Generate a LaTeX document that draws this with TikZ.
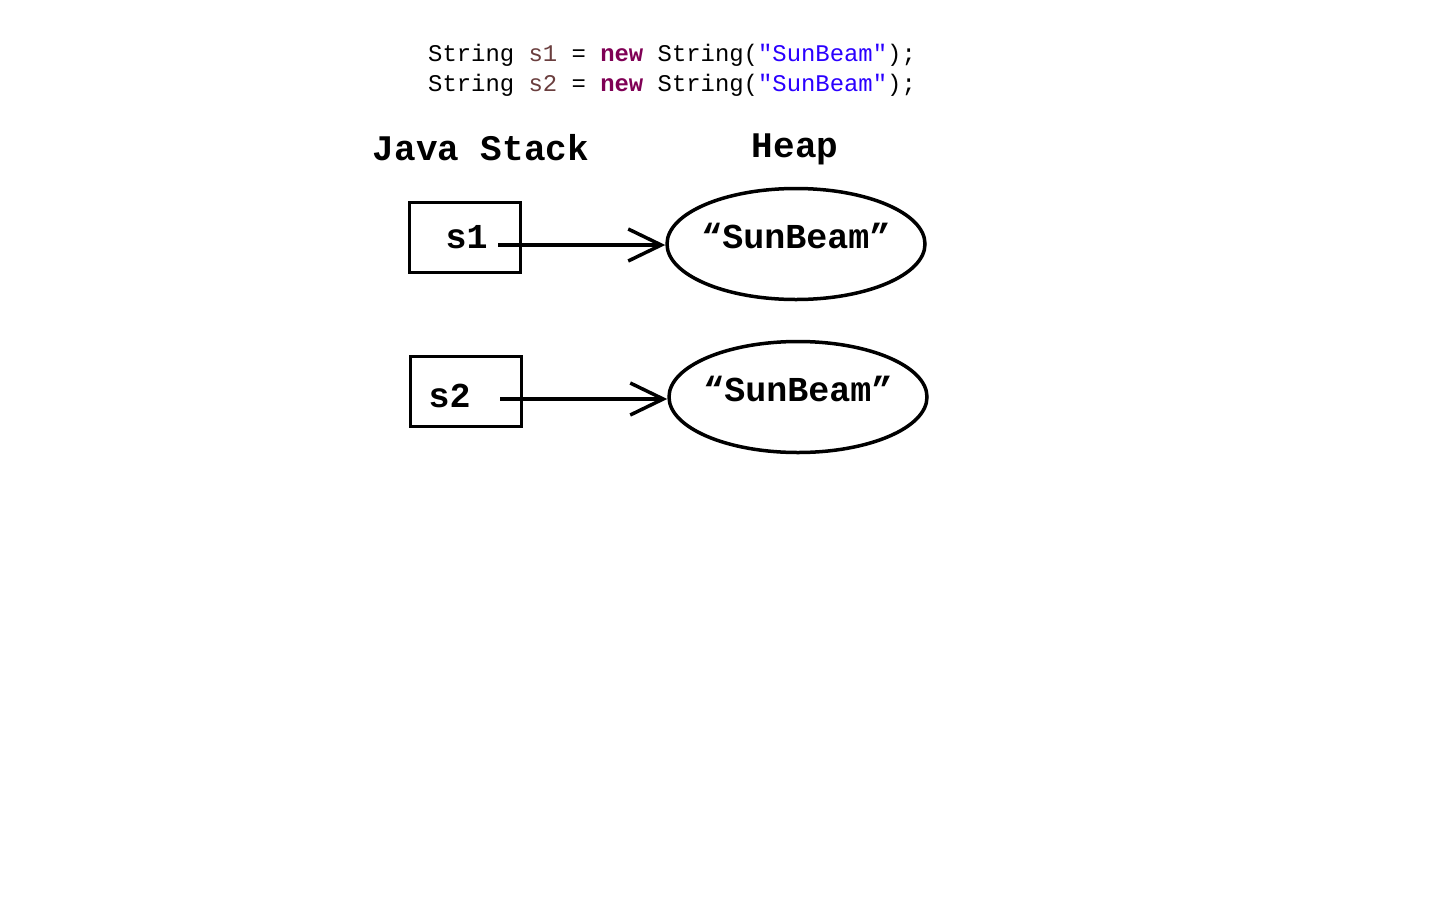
\documentclass[tikz,border=0pt]{standalone}
\usepackage{fontspec}
\usepackage{tikz}
\usetikzlibrary{shapes.geometric,arrows.meta}
\newfontfamily\codefont{Liberation Mono}
\definecolor{kwpurple}{HTML}{7F0055}
\definecolor{varbrown}{HTML}{6A3E3E}
\definecolor{strblue}{HTML}{2A00FF}

\begin{document}
\begin{tikzpicture}[x=1pt,y=-1pt]
\tikzset{code/.style={anchor=base west,inner sep=0,font=\codefont\fontsize{23.9}{24}\selectfont},
         title/.style={anchor=base,inner sep=0,font=\codefont\bfseries\fontsize{36}{36}\selectfont},
         varbox/.style={draw,line width=3pt,minimum width=111pt,minimum height=70pt,inner sep=0,
                        font=\codefont\bfseries\fontsize{35}{35}\selectfont},
         heapobj/.style={draw,ellipse,line width=3.5pt,line join=round,minimum width=258pt,minimum height=111pt,
                        inner xsep=-5pt,inner ysep=0pt,font=\codefont\bfseries\fontsize{35}{35}\selectfont},
         ref/.style={line width=3.5pt,-{Straight Barb[length=33pt,width=32pt]}}}
\useasboundingbox (0,0) rectangle (1440,900);

% source lines
\node[code] (code1) at (428,61) {String \textcolor{varbrown}{s1} = \textcolor{kwpurple}{\bfseries new} String(\textcolor{strblue}{"SunBeam"});};
\node[code] (code2) at (428,91) {String \textcolor{varbrown}{s2} = \textcolor{kwpurple}{\bfseries new} String(\textcolor{strblue}{"SunBeam"});};

% headings
\node[title] (stacktitle) at (481,160) {Java Stack};
\node[title] (heaptitle) at (795,157) {Heap};

% stack variables
\node[varbox] (s1box) at (464.5,237.5) {\hspace{4pt}s1};
\node[varbox,label={[xshift=-16pt,yshift=-5pt,font=\codefont\bfseries\fontsize{35}{35}\selectfont]center:s2}] (s2box) at (465.5,391) {};

% heap objects
\node[heapobj,text depth=16pt] (obj1) at (796,244) {“SunBeam”};
\node[heapobj,text depth=16pt] (obj2) at (798,397) {“SunBeam”};

% references
\coordinate (p1) at (498,245);
\coordinate (p2) at (500,399);
\draw[ref] (p1) -- (p1 -| obj1.west);
\draw[ref] (p2) -- (p2 -| obj2.west);

\end{tikzpicture}
\end{document}
